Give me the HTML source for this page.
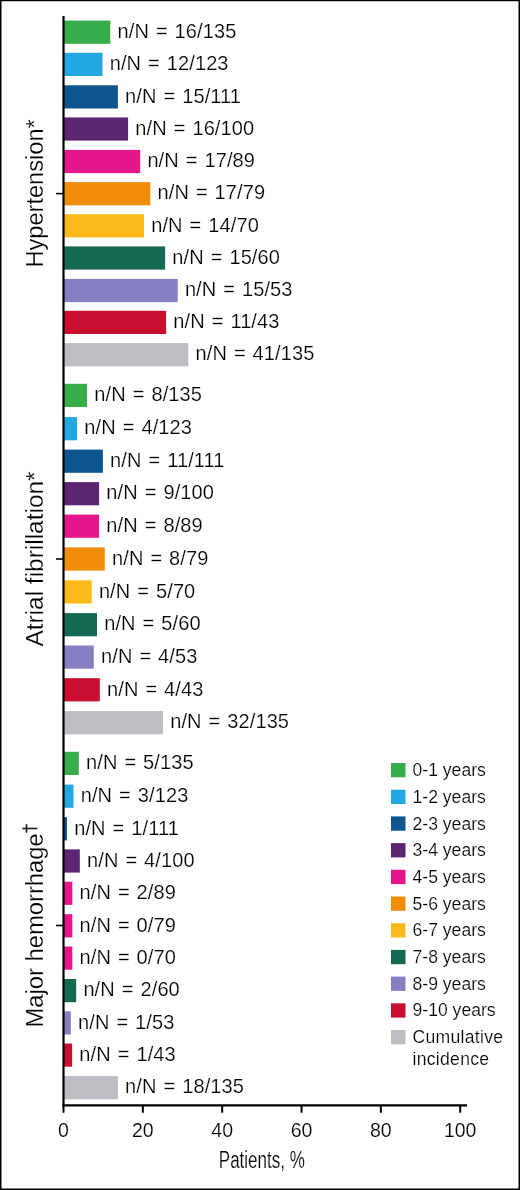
<!DOCTYPE html>
<html><head><meta charset="utf-8"><style>
html,body{margin:0;padding:0;background:#fff;}
body{width:520px;height:1190px;overflow:hidden;}
svg{display:block;will-change:transform;}
text{font-family:"Liberation Sans",sans-serif;fill:#000;stroke:#fff;stroke-width:0.2px;}
.lb{font-size:20px;letter-spacing:0.1px;word-spacing:1.3px;}
.lg{font-size:17.6px;}
.tk{font-size:19.5px;}
.yl{font-size:23px;}
</style></head><body>
<svg width="520" height="1190" viewBox="0 0 520 1190">
<rect x="0" y="0" width="520" height="1190" fill="#fff"/>
<rect x="64.0" y="20.6" width="46.3" height="23.2" fill="#36ac4a"/>
<text x="117.5" y="37.9" class="lb">n/N = 16/135</text>
<rect x="64.0" y="52.8" width="38.5" height="23.2" fill="#23a8e2"/>
<text x="109.7" y="70.1" class="lb">n/N = 12/123</text>
<rect x="64.0" y="85.3" width="53.9" height="23.2" fill="#0e5590"/>
<text x="125.1" y="102.6" class="lb">n/N = 15/111</text>
<rect x="64.0" y="117.4" width="64.1" height="23.2" fill="#5d2571"/>
<text x="135.3" y="134.7" class="lb">n/N = 16/100</text>
<rect x="64.0" y="149.9" width="76.2" height="23.2" fill="#e4168a"/>
<text x="147.4" y="167.2" class="lb">n/N = 17/89</text>
<rect x="64.0" y="182.1" width="86.3" height="23.2" fill="#f18c06"/>
<text x="157.5" y="199.4" class="lb">n/N = 17/79</text>
<rect x="64.0" y="214.2" width="80.0" height="23.2" fill="#fbba1a"/>
<text x="151.2" y="231.5" class="lb">n/N = 14/70</text>
<rect x="64.0" y="246.4" width="101.1" height="23.2" fill="#156953"/>
<text x="172.3" y="263.7" class="lb">n/N = 15/60</text>
<rect x="64.0" y="278.9" width="113.7" height="23.2" fill="#8680c2"/>
<text x="184.9" y="296.2" class="lb">n/N = 15/53</text>
<rect x="64.0" y="310.8" width="102.1" height="23.2" fill="#c80f30"/>
<text x="173.3" y="328.1" class="lb">n/N = 11/43</text>
<rect x="64.0" y="343.1" width="124.3" height="23.2" fill="#bfbdc4"/>
<text x="195.5" y="360.4" class="lb">n/N = 41/135</text>
<rect x="64.0" y="383.8" width="23.1" height="23.2" fill="#36ac4a"/>
<text x="94.3" y="401.1" class="lb">n/N = 8/135</text>
<rect x="64.0" y="417.1" width="13.1" height="23.2" fill="#23a8e2"/>
<text x="84.3" y="434.4" class="lb">n/N = 4/123</text>
<rect x="64.0" y="449.6" width="38.9" height="23.2" fill="#0e5590"/>
<text x="110.1" y="466.9" class="lb">n/N = 11/111</text>
<rect x="64.0" y="482.1" width="35.1" height="23.2" fill="#5d2571"/>
<text x="106.3" y="499.4" class="lb">n/N = 9/100</text>
<rect x="64.0" y="514.6" width="35.1" height="23.2" fill="#e4168a"/>
<text x="106.3" y="531.9" class="lb">n/N = 8/89</text>
<rect x="64.0" y="547.4" width="40.8" height="23.2" fill="#f18c06"/>
<text x="112.0" y="564.7" class="lb">n/N = 8/79</text>
<rect x="64.0" y="580.3" width="27.7" height="23.2" fill="#fbba1a"/>
<text x="98.9" y="597.6" class="lb">n/N = 5/70</text>
<rect x="64.0" y="613.1" width="33.0" height="23.2" fill="#156953"/>
<text x="104.2" y="630.4" class="lb">n/N = 5/60</text>
<rect x="64.0" y="645.5" width="29.8" height="23.2" fill="#8680c2"/>
<text x="101.0" y="662.8" class="lb">n/N = 4/53</text>
<rect x="64.0" y="678.2" width="35.8" height="23.2" fill="#c80f30"/>
<text x="107.0" y="695.5" class="lb">n/N = 4/43</text>
<rect x="64.0" y="711.1" width="99.0" height="23.2" fill="#bfbdc4"/>
<text x="170.2" y="728.4" class="lb">n/N = 32/135</text>
<rect x="64.0" y="751.8" width="14.8" height="23.2" fill="#36ac4a"/>
<text x="86.0" y="769.1" class="lb">n/N = 5/135</text>
<rect x="64.0" y="784.6" width="9.5" height="23.2" fill="#23a8e2"/>
<text x="80.7" y="801.9" class="lb">n/N = 3/123</text>
<rect x="64.0" y="817.2" width="3.0" height="23.2" fill="#0e5590"/>
<text x="74.2" y="834.5" class="lb">n/N = 1/111</text>
<rect x="64.0" y="849.4" width="15.8" height="23.2" fill="#5d2571"/>
<text x="87.0" y="866.7" class="lb">n/N = 4/100</text>
<rect x="64.0" y="881.7" width="8.3" height="23.2" fill="#e4168a"/>
<text x="79.5" y="899.0" class="lb">n/N = 2/89</text>
<rect x="64.0" y="914.2" width="8.3" height="23.2" fill="#e4168a"/>
<text x="79.5" y="931.5" class="lb">n/N = 0/79</text>
<rect x="64.0" y="946.5" width="8.3" height="23.2" fill="#e4168a"/>
<text x="79.5" y="963.8" class="lb">n/N = 0/70</text>
<rect x="64.0" y="979.0" width="12.2" height="23.2" fill="#156953"/>
<text x="83.4" y="996.3" class="lb">n/N = 2/60</text>
<rect x="64.0" y="1011.3" width="6.8" height="23.2" fill="#8680c2"/>
<text x="78.0" y="1028.6" class="lb">n/N = 1/53</text>
<rect x="64.0" y="1043.5" width="8.1" height="23.2" fill="#c80f30"/>
<text x="79.3" y="1060.8" class="lb">n/N = 1/43</text>
<rect x="64.0" y="1076.1" width="53.9" height="23.2" fill="#bfbdc4"/>
<text x="125.1" y="1093.4" class="lb">n/N = 18/135</text>
<line x1="63.5" y1="16" x2="63.5" y2="1106" stroke="#000" stroke-width="2.2"/>
<line x1="62.4" y1="1105.3" x2="467.1" y2="1105.3" stroke="#000" stroke-width="2.3"/>
<line x1="63.50" y1="1105" x2="63.50" y2="1112.7" stroke="#000" stroke-width="2"/>
<text x="63.50" y="1136.8" class="tk" text-anchor="middle">0</text>
<line x1="142.84" y1="1105" x2="142.84" y2="1112.7" stroke="#000" stroke-width="2"/>
<text x="142.84" y="1136.8" class="tk" text-anchor="middle">20</text>
<line x1="222.18" y1="1105" x2="222.18" y2="1112.7" stroke="#000" stroke-width="2"/>
<text x="222.18" y="1136.8" class="tk" text-anchor="middle">40</text>
<line x1="301.52" y1="1105" x2="301.52" y2="1112.7" stroke="#000" stroke-width="2"/>
<text x="301.52" y="1136.8" class="tk" text-anchor="middle">60</text>
<line x1="380.86" y1="1105" x2="380.86" y2="1112.7" stroke="#000" stroke-width="2"/>
<text x="380.86" y="1136.8" class="tk" text-anchor="middle">80</text>
<line x1="460.20" y1="1105" x2="460.20" y2="1112.7" stroke="#000" stroke-width="2"/>
<text x="460.20" y="1136.8" class="tk" text-anchor="middle">100</text>
<line x1="56" y1="193.6" x2="63" y2="193.6" stroke="#000" stroke-width="1.6"/>
<line x1="56" y1="559" x2="63" y2="559" stroke="#000" stroke-width="1.6"/>
<line x1="56" y1="925.5" x2="63" y2="925.5" stroke="#000" stroke-width="1.6"/>
<text class="yl" transform="translate(42.9,267.6) rotate(-90)" textLength="148.3" lengthAdjust="spacingAndGlyphs">Hypertension*</text>
<text class="yl" transform="translate(42.9,646.6) rotate(-90)" textLength="175.2" lengthAdjust="spacingAndGlyphs">Atrial fibrillation*</text>
<text class="yl" transform="translate(42.9,1027.6) rotate(-90)" textLength="194.3" lengthAdjust="spacingAndGlyphs">Major hemorrhage</text>
<line x1="22.3" y1="828.5" x2="37.3" y2="828.5" stroke="#1a1a1a" stroke-width="1.6"/>
<line x1="26.5" y1="824.2" x2="26.5" y2="832.7" stroke="#1a1a1a" stroke-width="1.6"/>
<text x="261.8" y="1168.1" style="font-size:23px" text-anchor="middle" textLength="86" lengthAdjust="spacingAndGlyphs">Patients, %</text>
<rect x="391" y="763.0" width="14.5" height="14.3" fill="#36ac4a"/>
<text x="412.5" y="776.1" class="lg">0-1 years</text>
<rect x="391" y="789.7" width="14.5" height="14.3" fill="#23a8e2"/>
<text x="412.5" y="802.8" class="lg">1-2 years</text>
<rect x="391" y="816.4" width="14.5" height="14.3" fill="#0e5590"/>
<text x="412.5" y="829.5" class="lg">2-3 years</text>
<rect x="391" y="843.1" width="14.5" height="14.3" fill="#5d2571"/>
<text x="412.5" y="856.2" class="lg">3-4 years</text>
<rect x="391" y="869.8" width="14.5" height="14.3" fill="#e4168a"/>
<text x="412.5" y="882.9" class="lg">4-5 years</text>
<rect x="391" y="896.5" width="14.5" height="14.3" fill="#f18c06"/>
<text x="412.5" y="909.6" class="lg">5-6 years</text>
<rect x="391" y="923.2" width="14.5" height="14.3" fill="#fbba1a"/>
<text x="412.5" y="936.3" class="lg">6-7 years</text>
<rect x="391" y="949.9" width="14.5" height="14.3" fill="#156953"/>
<text x="412.5" y="963.0" class="lg">7-8 years</text>
<rect x="391" y="976.6" width="14.5" height="14.3" fill="#8680c2"/>
<text x="412.5" y="989.7" class="lg">8-9 years</text>
<rect x="391" y="1003.3" width="14.5" height="14.3" fill="#c80f30"/>
<text x="412.5" y="1016.4" class="lg">9-10 years</text>
<rect x="391" y="1030.0" width="14.5" height="14.3" fill="#bfbdc4"/>
<text x="412.5" y="1043.4" class="lg" style="letter-spacing:0.28px">Cumulative</text>
<text x="412.5" y="1064.5" class="lg" style="letter-spacing:0.28px">incidence</text>
<rect x="0" y="0" width="520" height="1.2" fill="#000"/>
<rect x="0" y="0" width="1.5" height="1190" fill="#000"/>
<rect x="518.5" y="0" width="1.5" height="1190" fill="#000"/>
<rect x="0" y="1188.5" width="520" height="1.5" fill="#000"/>
</svg>
</body></html>
